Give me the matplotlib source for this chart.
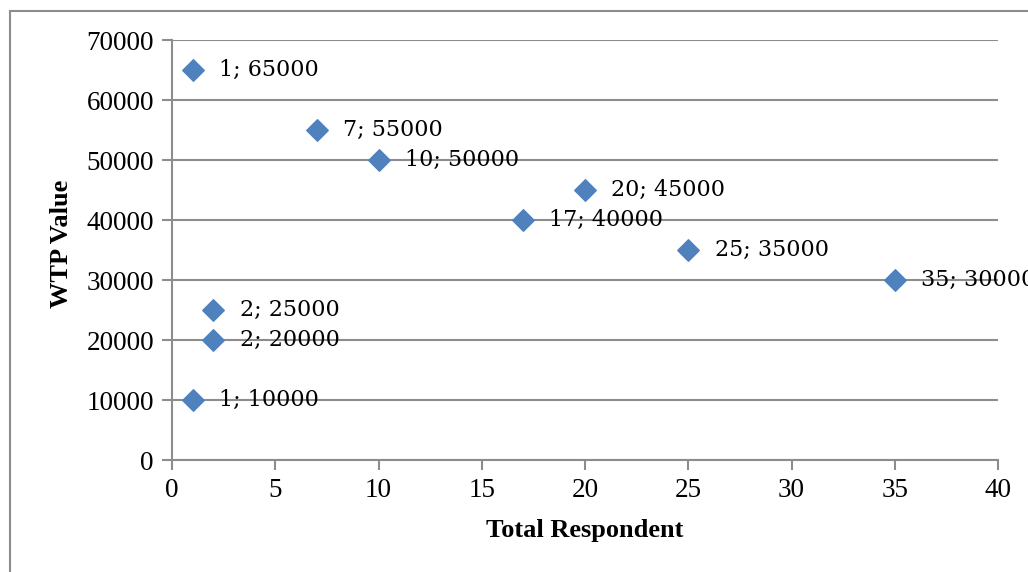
import matplotlib
matplotlib.use("Agg")
import matplotlib.pyplot as plt
from matplotlib.patches import Rectangle

# respondents and their WTP values
respondents = [1, 7, 10, 20, 17, 25, 35, 2, 2, 1]
wtp_values = [65000, 55000, 50000, 45000, 40000, 35000, 30000, 25000, 20000, 10000]

x_ticks = [0, 5, 10, 15, 20, 25, 30, 35, 40]
y_ticks = [0, 10000, 20000, 30000, 40000, 50000, 60000, 70000]

grey = "#8c8c8c"

fig = plt.figure(figsize=(10.28, 5.72), dpi=100)
ax = fig.add_axes([172 / 1028, 1 - 460 / 572, (998 - 172) / 1028, (460 - 40) / 572])

# chart border (cut off on right/bottom like the original)
fig.patches.append(Rectangle((10 / 1028, -0.1), 1.2, 1 - 11 / 572 + 0.1,
                             transform=fig.transFigure, fill=False,
                             edgecolor=grey, linewidth=1.5))

ax.scatter(respondents, wtp_values, marker="D", s=120, color="#4F81BD", zorder=3)

for x, y in zip(respondents, wtp_values):
    ax.annotate(f"{x}; {y}", (x, y), xytext=(19, 0), textcoords="offset points",
                va="center", ha="left", fontsize=16, family="DejaVu Serif",
                annotation_clip=False, zorder=4)

ax.set_xlim(0, 40)
ax.set_ylim(0, 70000)
ax.set_xticks(x_ticks)
ax.set_yticks(y_ticks)

ax.yaxis.grid(True, color=grey, linewidth=1.5)
ax.set_axisbelow(True)
for side in ["top", "right"]:
    ax.spines[side].set_visible(False)
for side in ["left", "bottom"]:
    ax.spines[side].set_color(grey)
    ax.spines[side].set_linewidth(1.5)

ax.tick_params(axis="both", direction="out", length=7, width=1.5, color=grey,
               labelsize=19.5, pad=6)
for lab in ax.get_xticklabels() + ax.get_yticklabels():
    lab.set_family("Liberation Serif")

ax.set_xlabel("Total Respondent", fontsize=19, fontweight="bold",
              family="Liberation Serif")
ax.set_ylabel("WTP Value", fontsize=19, fontweight="bold",
              family="Liberation Serif")
ax.xaxis.set_label_coords((585 - 172) / 826, -(531 - 460) / 420)
ax.yaxis.set_label_coords(-(172 - 61) / 826, (460 - 244) / 420)
ax.xaxis.label.set_va("center")
ax.yaxis.label.set_va("center")

fig.savefig("out.png", dpi=100)
